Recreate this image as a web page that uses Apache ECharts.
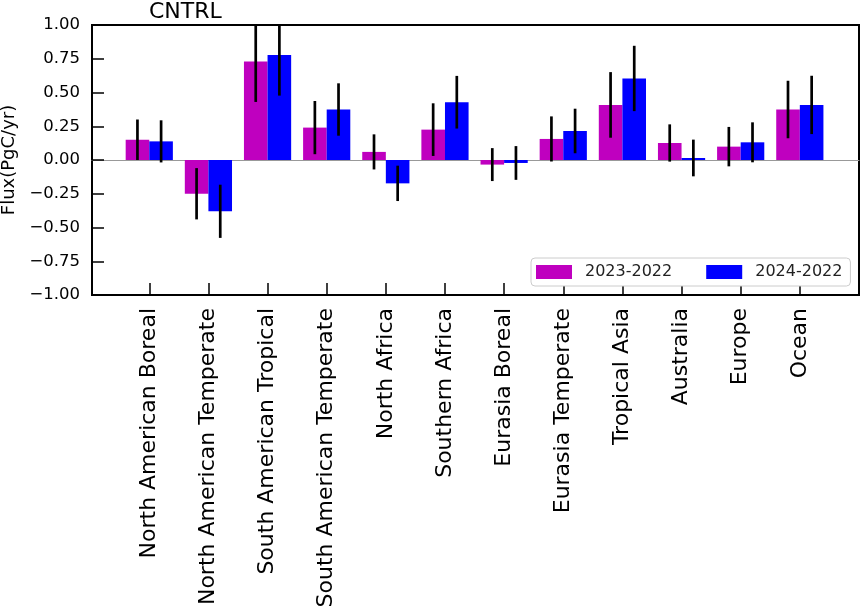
<!DOCTYPE html>
<html>
<head>
<meta charset="utf-8">
<script src="https://cdn.jsdelivr.net/npm/echarts@6/dist/echarts.min.js"></script>
<style>html,body{margin:0;padding:0;background:#fff;}#c{width:863px;height:608px;}</style>
</head>
<body>
<div id="c"></div>
<script>
const categories = ['North American Boreal','North American Temperate','South American Tropical','South American Temperate','North Africa','Southern Africa','Eurasia Boreal','Eurasia Temperate','Tropical Asia','Australia','Europe','Ocean'];
const v2023 = [0.15, -0.25, 0.73, 0.24, 0.06, 0.225, -0.034, 0.156, 0.408, 0.126, 0.099, 0.374];
const e2023 = [0.15, 0.19, 0.30, 0.197, 0.13, 0.195, 0.122, 0.167, 0.243, 0.138, 0.146, 0.213];
const v2024 = [0.138, -0.38, 0.777, 0.374, -0.173, 0.428, -0.022, 0.215, 0.604, 0.015, 0.131, 0.408];
const e2024 = [0.156, 0.197, 0.30, 0.194, 0.131, 0.195, 0.125, 0.165, 0.242, 0.136, 0.148, 0.216];
const yTicks = [-1, 1, 0.25];

const font = 'DejaVu Sans';
const chart = echarts.init(document.getElementById('c'));

function errSeries(vals, errs, side) {
  return {
    type: 'custom', xAxisIndex: 1, yAxisIndex: 1, clip: true, z: 5,
    data: vals.map((v, i) => [i, v, errs[i]]),
    encode: {x: 0, y: 1},
    renderItem: function (params, api) {
      const i = api.value(0), v = api.value(1), e = api.value(2);
      const bw = api.size([1, 0])[0];
      const c = api.coord([i, v]);
      const x = c[0] + side * bw * 0.2;
      const y1 = api.coord([i, v + e])[1];
      const y2 = api.coord([i, v - e])[1];
      return {type: 'line', shape: {x1: x, y1: y1, x2: x, y2: y2}, style: {stroke: '#000', lineWidth: 2.7}};
    }
  };
}

chart.setOption({
  animation: false,
  textStyle: {fontFamily: font},
  title: {text: 'CNTRL', left: 144, top: -4, textStyle: {fontFamily: font, fontSize: 22, fontWeight: 'normal', color: '#000'}},
  legend: {
    data: ['2023-2022', '2024-2022'], left: 531, top: 258, orient: 'horizontal',
    icon: 'rect', itemWidth: 36, itemHeight: 14, itemGap: 34,
    padding: [6, 8, 6, 5], borderColor: '#ccc', borderWidth: 1, borderRadius: 4, backgroundColor: '#fff',
    textStyle: {fontFamily: font, fontSize: 16, color: '#222', padding: [0, 0, 0, 8]}
  },
  grid: [
    {left: 92, right: 4, top: 25, bottom: 313, show: true, borderColor: '#000', borderWidth: 2, backgroundColor: 'transparent', outerBoundsMode: 'none', containLabel: false},
    {left: 119.7, right: 33.6, top: 25, bottom: 313, outerBoundsMode: 'none', containLabel: false}
  ],
  xAxis: [
    {type: 'value', gridIndex: 0, min: 0, max: 1, axisLabel: {show: false}, axisTick: {show: false}, splitLine: {show: false},
     axisLine: {show: true, onZero: true, lineStyle: {color: '#999', width: 1.2}}},
    {type: 'category', gridIndex: 1, data: categories, position: 'bottom',
     axisLine: {show: false, onZero: false},
     axisTick: {show: true, inside: true, length: 12, alignWithLabel: true, lineStyle: {color: '#000', width: 1.5}},
     axisLabel: {rotate: 90, fontSize: 22, margin: 13, color: '#000', fontFamily: font, interval: 0}}
  ],
  yAxis: [
    {type: 'value', gridIndex: 0, min: yTicks[0], max: yTicks[1], interval: yTicks[2],
     name: 'Flux(PgC/yr)', nameLocation: 'middle', nameGap: 74, nameTextStyle: {fontFamily: font, fontSize: 18, color: '#000'},
     axisLine: {show: true, lineStyle: {color: '#000', width: 2}},
     axisTick: {show: true, inside: true, length: 12, lineStyle: {color: '#000', width: 1.5}},
     axisLabel: {fontSize: 16.5, color: '#000', margin: 12, fontFamily: font, formatter: v => v.toFixed(2).replace('-', '\u2212')},
     splitLine: {show: false}},
    {type: 'value', gridIndex: 1, min: yTicks[0], max: yTicks[1], show: false, splitLine: {show: false}}
  ],
  series: [
    {name: '2023-2022', type: 'bar', xAxisIndex: 1, yAxisIndex: 1, data: v2023, barWidth: 23.6, barGap: '0%', itemStyle: {color: '#BF00BF'}},
    {name: '2024-2022', type: 'bar', xAxisIndex: 1, yAxisIndex: 1, data: v2024, barWidth: 23.6, barGap: '0%', itemStyle: {color: '#0000FF'}},
    errSeries(v2023, e2023, -1),
    errSeries(v2024, e2024, 1)
  ]
});
</script>
</body>
</html>
